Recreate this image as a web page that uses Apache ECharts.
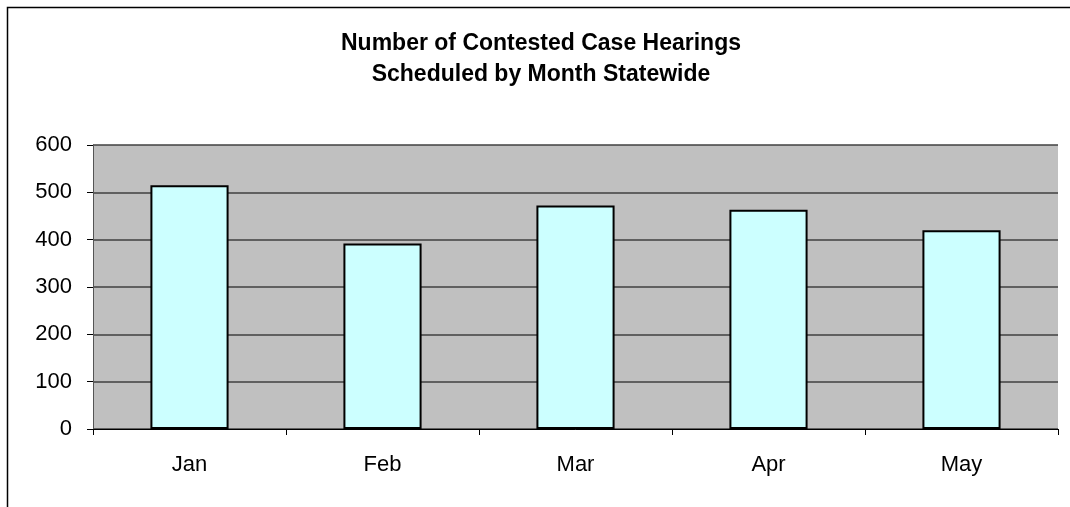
<!DOCTYPE html>
<html>
<head>
<meta charset="utf-8">
<script src="https://cdn.jsdelivr.net/npm/echarts@6/dist/echarts.min.js"></script>
<style>
  html, body { margin: 0; padding: 0; background: #fff; }
  #chart { width: 1070px; height: 507px; }
</style>
</head>
<body>
<div id="chart"></div>
<script>
// months and hearing counts
const months = ["Jan", "Feb", "Mar", "Apr", "May"];
const hearings = [515, 392, 472, 463, 420];

const chart = echarts.init(document.getElementById("chart"));
const opt = {
  backgroundColor: "#fff",
  animation: false,
  title: {
    text: "Number of Contested Case Hearings\nScheduled by Month Statewide",
    left: 536,
    top: 23,
    textAlign: "center",
    textStyle: {
      fontFamily: "Liberation Sans",
      fontWeight: "bold",
      fontSize: 23,
      lineHeight: 31,
      color: "#000"
    }
  },
  graphic: [
    {
      type: "rect",
      shape: { x: 7.5, y: 7.5, width: 1080, height: 520 },
      style: { fill: null, stroke: "#000", lineWidth: 1.5 },
      silent: true
    }
  ],
  grid: {
    left: 93, right: 12, top: 145, bottom: 78,
    show: true,
    backgroundColor: "#c0c0c0",
    borderWidth: 0
  },
  xAxis: {
    type: "category",
    data: months,
    axisLine: { lineStyle: { color: "#000", width: 1 } },
    axisTick: { show: true, length: 6, lineStyle: { color: "#000" } },
    axisLabel: {
      margin: 25,
      fontFamily: "Liberation Sans",
      fontSize: 22,
      color: "#000"
    }
  },
  yAxis: {
    type: "value",
    min: 0,
    max: 600,
    interval: 100,
    axisLine: { show: true, lineStyle: { color: "#555", width: 1 } },
    axisTick: { show: true, length: 6, lineStyle: { color: "#000" } },
    axisLabel: {
      margin: 21,
      fontFamily: "Liberation Sans",
      fontSize: 22,
      color: "#000"
    },
    splitLine: { lineStyle: { color: "#404040", width: 1.5 } }
  },
  series: [
    {
      type: "bar",
      data: hearings,
      barWidth: "40.5%",
      itemStyle: {
        color: "#ccffff",
        borderColor: "#000",
        borderWidth: 2
      }
    }
  ]
};
chart.setOption(opt);
</script>
</body>
</html>
